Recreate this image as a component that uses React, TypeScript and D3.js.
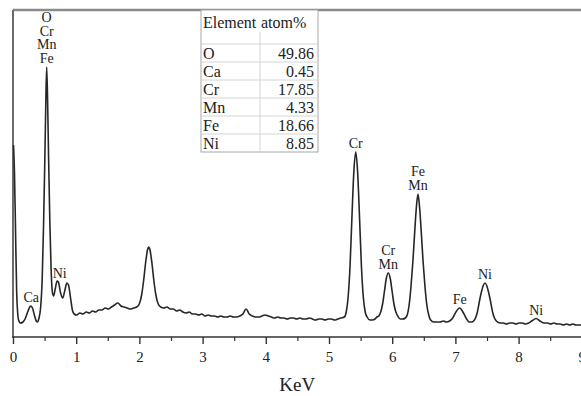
import * as d3 from "d3";
import React from "react";

// EDS spectrum: [energy keV, counts (a.u.)]
const spectrum: [number, number][] = [
  [0.0, 192], [0.015, 165], [0.03, 115], [0.05, 45], [0.08, 17], [0.11, 14], [0.15, 15],
  [0.19, 19], [0.23, 26], [0.27, 31], [0.3, 29], [0.33, 22], [0.36, 16], [0.38, 15],
  [0.4, 18], [0.43, 30], [0.455, 60], [0.475, 110], [0.495, 175], [0.51, 230], [0.525, 270],
  [0.54, 235], [0.555, 180], [0.575, 115], [0.595, 68], [0.615, 45], [0.635, 41],
  [0.66, 48], [0.69, 56], [0.71, 55], [0.745, 44], [0.78, 39], [0.81, 46], [0.845, 54],
  [0.87, 52], [0.905, 38], [0.935, 26], [0.96, 23],
  [1.0, 22], [1.05, 24], [1.1, 23], [1.15, 25], [1.2, 24], [1.25, 26], [1.3, 25], [1.35, 27],
  [1.4, 27], [1.45, 29], [1.5, 28], [1.55, 30], [1.6, 32], [1.65, 34], [1.7, 31], [1.75, 30],
  [1.8, 29], [1.85, 28], [1.9, 29], [1.95, 30],
  [1.99, 33], [2.03, 43], [2.06, 57], [2.09, 74], [2.12, 87], [2.14, 90], [2.16, 87],
  [2.19, 74], [2.22, 57], [2.25, 43], [2.29, 33], [2.33, 30],
  [2.38, 29], [2.43, 30], [2.48, 28], [2.53, 28], [2.58, 26], [2.63, 27], [2.68, 25],
  [2.73, 24], [2.78, 25], [2.83, 23], [2.88, 23], [2.93, 22], [2.98, 23], [3.03, 21],
  [3.08, 22], [3.13, 21], [3.18, 21], [3.23, 20], [3.28, 21], [3.33, 20], [3.38, 20],
  [3.43, 21], [3.48, 20], [3.53, 20], [3.58, 21], [3.63, 23], [3.68, 28], [3.73, 23],
  [3.78, 21], [3.83, 20], [3.88, 20], [3.93, 21], [3.98, 22], [4.03, 21], [4.08, 20],
  [4.13, 19], [4.18, 20], [4.23, 19], [4.28, 19], [4.33, 18], [4.38, 19], [4.43, 19],
  [4.48, 18], [4.53, 19], [4.58, 18], [4.63, 18], [4.68, 19], [4.73, 18], [4.78, 17],
  [4.83, 18], [4.88, 18], [4.93, 17], [4.98, 18], [5.03, 18], [5.08, 17], [5.13, 18],
  [5.18, 19], [5.235, 20], [5.265, 25], [5.295, 40], [5.325, 71], [5.355, 120],
  [5.385, 165], [5.415, 185], [5.445, 165], [5.475, 120], [5.505, 71], [5.535, 40],
  [5.565, 25], [5.595, 20], [5.64, 17], [5.68, 17], [5.72, 18], [5.75, 20],
  [5.78, 21], [5.81, 25], [5.84, 33], [5.87, 46], [5.9, 59], [5.93, 64], [5.96, 59],
  [5.99, 46], [6.02, 33], [6.05, 25], [6.08, 21], [6.12, 18], [6.16, 18],
  [6.2, 19], [6.23, 22], [6.26, 32], [6.29, 51], [6.32, 76], [6.35, 107], [6.375, 130],
  [6.4, 143], [6.425, 130], [6.45, 107], [6.48, 76], [6.51, 51], [6.54, 32], [6.57, 22],
  [6.6, 17], [6.65, 15], [6.7, 15], [6.75, 15], [6.8, 16], [6.85, 15], [6.9, 16],
  [6.95, 19], [7.0, 25], [7.06, 29], [7.12, 24], [7.17, 18], [7.21, 15], [7.25, 15],
  [7.28, 16], [7.31, 19], [7.34, 25], [7.37, 35], [7.4, 44], [7.43, 51], [7.46, 54],
  [7.49, 51], [7.52, 44], [7.55, 35], [7.58, 25], [7.61, 19], [7.64, 16], [7.7, 14],
  [7.75, 14], [7.8, 13], [7.85, 14], [7.9, 14], [7.95, 13], [8.0, 14], [8.05, 14],
  [8.1, 13], [8.15, 14], [8.2, 16], [8.27, 18.5], [8.33, 16], [8.4, 14], [8.45, 14],
  [8.5, 13], [8.55, 14], [8.6, 13], [8.65, 13], [8.7, 12], [8.75, 13], [8.8, 12],
  [8.85, 13], [8.9, 12], [8.95, 12], [9.0, 12],
];

const peakLabels: { keV: number; lines: string[] }[] = [
  { keV: 0.28, lines: ["Ca"] },
  { keV: 0.525, lines: ["O", "Cr", "Mn", "Fe"] },
  { keV: 0.73, lines: ["Ni"] },
  { keV: 5.415, lines: ["Cr"] },
  { keV: 5.93, lines: ["Cr", "Mn"] },
  { keV: 6.4, lines: ["Fe", "Mn"] },
  { keV: 7.06, lines: ["Fe"] },
  { keV: 7.46, lines: ["Ni"] },
  { keV: 8.27, lines: ["Ni"] },
];

const tableElements = ["O", "Ca", "Cr", "Mn", "Fe", "Ni"];
const tableAtomPct = ["49.86", "0.45", "17.85", "4.33", "18.66", "8.85"];

const xTicks = [0, 1, 2, 3, 4, 5, 6, 7, 8, 9];
const xMinorTicks = d3.range(0.5, 9, 1);

const W = 581;
const H = 396;
const left = 13.5;
const top = 10;
const bottom = 337;
const font = "'Liberation Serif', 'Times New Roman', serif";

export default function App() {
  const x = d3.scaleLinear().domain([0, 9]).range([left, left + 63.2 * 9]);
  const y = d3.scaleLinear().domain([0, 327]).range([bottom, top]);

  const line = d3
    .line<[number, number]>()
    .x((d) => x(d[0]))
    .y((d) => y(d[1]))
    .curve(d3.curveMonotoneX);

  const peakTop = (k: number) =>
    d3.max(spectrum.filter((d) => Math.abs(d[0] - k) <= 0.04), (d) => d[1]) || 0;

  // table layout
  const tL = 201;
  const tR = 318;
  const tCol = 260;
  const rowTop = 44;
  const rowH = 18;
  const tBottom = rowTop + rowH * tableElements.length;

  return (
    <svg
      width={W}
      height={H}
      style={{ position: "absolute", left: 0, top: 0, background: "#fff" }}
      fontFamily={font}
    >
      {/* frame */}
      <line x1={left - 0.5} x2={W} y1={top} y2={top} stroke="#8a8a8a" strokeWidth={2.5} />
      <line x1={left - 0.5} x2={left - 0.5} y1={top} y2={bottom} stroke="#6a6a6a" strokeWidth={2} />

      {/* x axis */}
      <line x1={left - 1.5} x2={W} y1={bottom} y2={bottom} stroke="#333" strokeWidth={1.6} />
      {xTicks.map((t) => (
        <g key={t} transform={`translate(${x(t)},${bottom})`}>
          <line y1={0} y2={7} stroke="#333" strokeWidth={1.4} />
          <text y={25} textAnchor="middle" fontSize={15} fill="#222">
            {t}
          </text>
        </g>
      ))}
      {xMinorTicks.map((t) => (
        <line key={t} x1={x(t)} x2={x(t)} y1={bottom} y2={bottom + 4} stroke="#333" strokeWidth={1.2} />
      ))}
      <text x={(left + W) / 2} y={391} textAnchor="middle" fontSize={19} fill="#222">
        KeV
      </text>

      {/* spectrum */}
      <path d={line(spectrum) || ""} fill="none" stroke="#262626" strokeWidth={1.6} strokeLinejoin="round" />

      {/* peak labels */}
      {peakLabels.map((p, i) => {
        const yTop = y(peakTop(p.keV));
        const n = p.lines.length;
        return (
          <text key={i} textAnchor="middle" fontSize={14} fill="#222">
            {p.lines.map((s, j) => (
              <tspan key={j} x={x(p.keV)} y={yTop - 4 - (n - 1 - j) * 13.6}>
                {s}
              </tspan>
            ))}
          </text>
        );
      })}

      {/* table */}
      <g fontSize={16} fill="#222">
        <rect x={tL} y={top} width={tR - tL} height={tBottom - top} fill="#fff" stroke="#a8a8a8" strokeWidth={1} />
        <line x1={tCol} x2={tCol} y1={32} y2={tBottom} stroke="#d4d4d4" strokeWidth={1} />
        {d3.range(tableElements.length).map((i) => (
          <line key={i} x1={tL} x2={tR} y1={rowTop + i * rowH} y2={rowTop + i * rowH} stroke="#d4d4d4" strokeWidth={1} />
        ))}
        <text x={tL + 2} y={27.5}>
          Element
        </text>
        <text x={tCol + 1} y={27.5}>
          atom%
        </text>
        {tableElements.map((el, i) => (
          <g key={el}>
            <text x={tL + 2} y={rowTop + i * rowH + 14.5}>
              {el}
            </text>
            <text x={tR - 4} y={rowTop + i * rowH + 14.5} textAnchor="end">
              {tableAtomPct[i]}
            </text>
          </g>
        ))}
      </g>
    </svg>
  );
}
